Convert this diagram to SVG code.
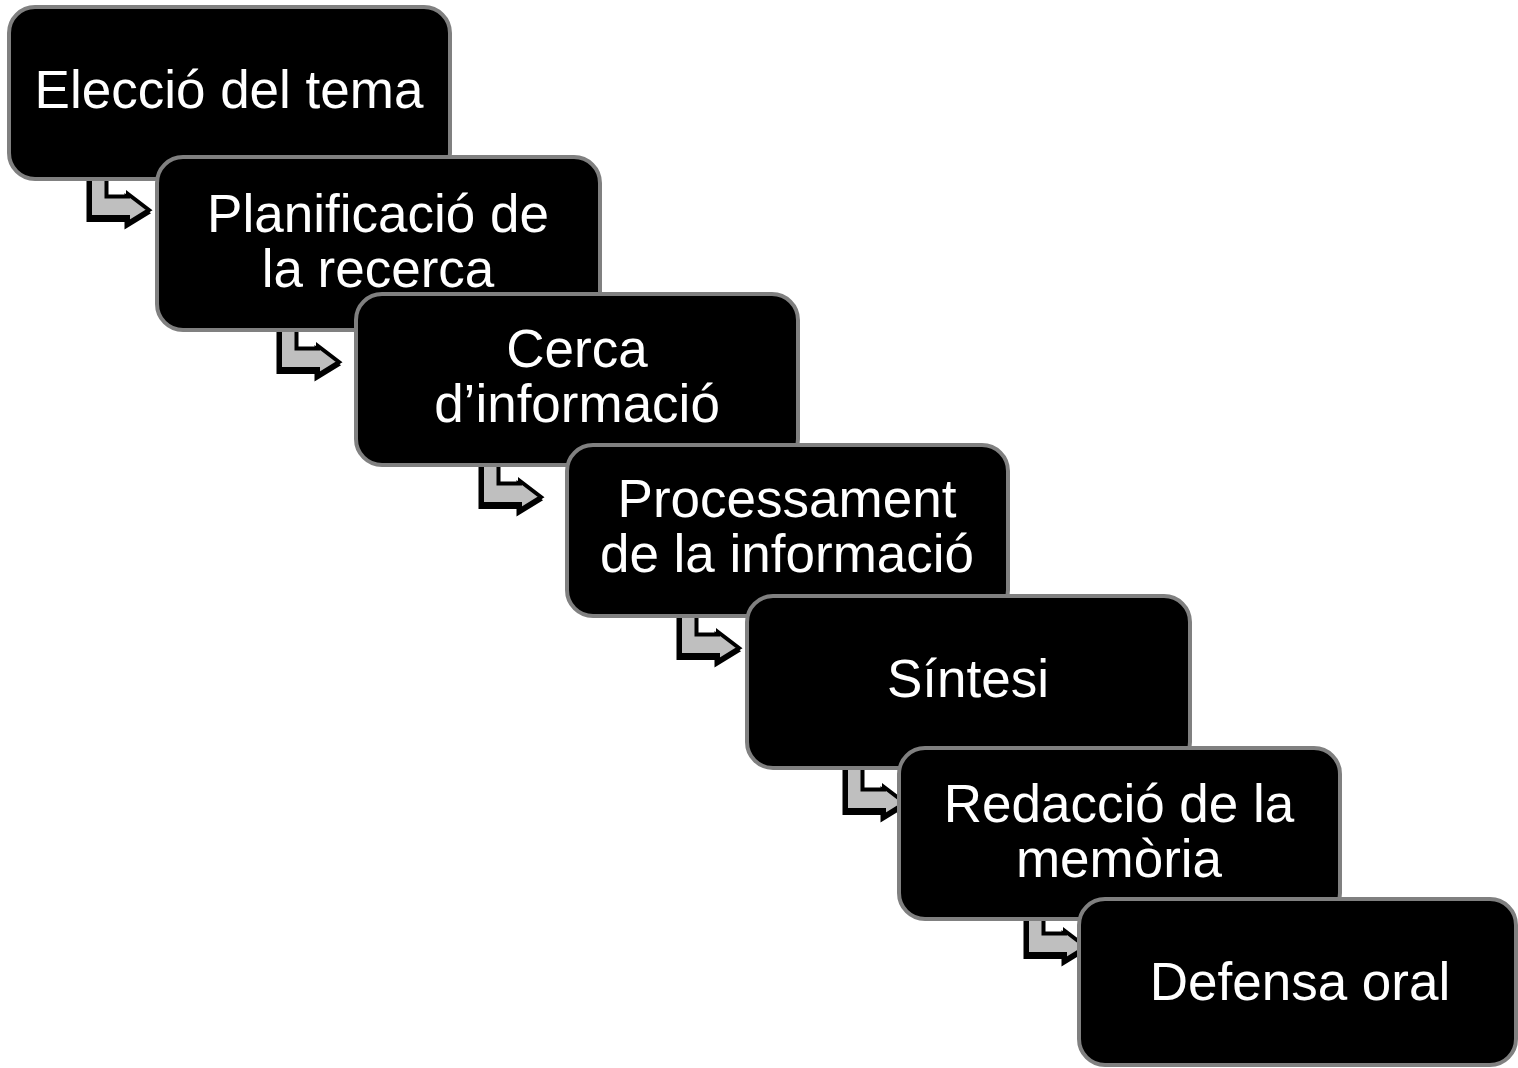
<svg xmlns="http://www.w3.org/2000/svg" xmlns:xlink="http://www.w3.org/1999/xlink" width="1518" height="1068" viewBox="0 0 1518 1068">
<style>
.box{fill:#000;stroke:#808080;stroke-width:4}
.lbl{fill:#fff;font-family:"Liberation Sans",Arial,sans-serif;font-size:53px;text-anchor:middle}
.arr{fill:#bfbfbf;stroke:#000;stroke-width:4;stroke-linejoin:miter}
.sh{fill:#000;stroke:#000;stroke-width:4;stroke-linejoin:miter}
</style>
<defs>
<path id="bent" d="M3,-40 V7 H41 V13 L62,0 L41,-16 V-13.5 H19.5 V-40 Z"/>
</defs>
<rect width="1518" height="1068" fill="#fff"/>
<g id="connectors">
<use xlink:href="#bent" class="sh" transform="translate(85.5,213)"/>
<use xlink:href="#bent" class="arr" transform="translate(87,210)"/>
<use xlink:href="#bent" class="sh" transform="translate(275.5,365)"/>
<use xlink:href="#bent" class="arr" transform="translate(277,362)"/>
<use xlink:href="#bent" class="sh" transform="translate(477.5,500)"/>
<use xlink:href="#bent" class="arr" transform="translate(479,497)"/>
<use xlink:href="#bent" class="sh" transform="translate(675.5,651)"/>
<use xlink:href="#bent" class="arr" transform="translate(677,648)"/>
<use xlink:href="#bent" class="sh" transform="translate(841.5,806)"/>
<use xlink:href="#bent" class="arr" transform="translate(843,803)"/>
<use xlink:href="#bent" class="sh" transform="translate(1022.5,950)"/>
<use xlink:href="#bent" class="arr" transform="translate(1024,947)"/>
</g>
<g id="n1"><rect class="box" x="9" y="7" width="441" height="172" rx="26"/><text class="lbl" x="229" y="108">Elecció del tema</text></g>
<g id="n2"><rect class="box" x="157" y="157" width="443" height="173" rx="26"/><text class="lbl" x="378" y="232">Planificació de</text><text class="lbl" x="378" y="287">la recerca</text></g>
<g id="n3"><rect class="box" x="356" y="294" width="442" height="171" rx="26"/><text class="lbl" x="577" y="367">Cerca</text><text class="lbl" x="577" y="422">d’informació</text></g>
<g id="n4"><rect class="box" x="567" y="445" width="441" height="171" rx="26"/><text class="lbl" x="787" y="517">Processament</text><text class="lbl" x="787" y="572">de la informació</text></g>
<g id="n5"><rect class="box" x="747" y="596" width="443" height="172" rx="26"/><text class="lbl" x="968" y="697">Síntesi</text></g>
<g id="n6"><rect class="box" x="899" y="748" width="441" height="171" rx="26"/><text class="lbl" x="1119" y="822">Redacció de la</text><text class="lbl" x="1119" y="877">memòria</text></g>
<g id="n7"><rect class="box" x="1079" y="899" width="437" height="166" rx="26"/><text class="lbl" x="1300" y="1000">Defensa oral</text></g>
</svg>
